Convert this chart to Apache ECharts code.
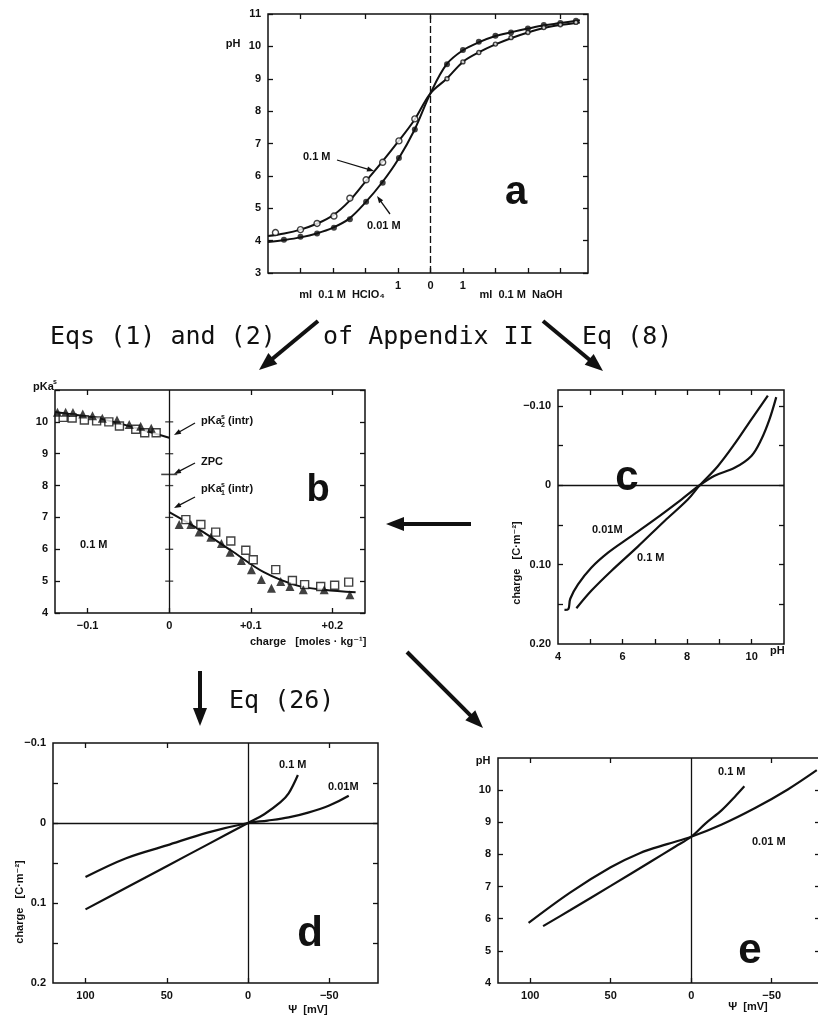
<!DOCTYPE html>
<html>
<head>
<meta charset="utf-8">
<script src="https://cdn.jsdelivr.net/npm/echarts@6/dist/echarts.min.js"></script>
<style>
  html, body { margin: 0; padding: 0; background: #fff; }
  #chart { width: 818px; height: 1020px; }
</style>
</head>
<body>
<div id="chart"></div>
<script>
// ---- (a) titration curves: ml acid (left, negative) / ml base (right, positive) vs pH ----
const aPts01Acid  = [[-4.77,4.25],[-4.0,4.34],[-3.49,4.53],[-2.97,4.76],[-2.48,5.31],[-1.98,5.88],[-1.47,6.42],[-0.97,7.08],[-0.48,7.76]];
const aPts001Acid = [[-4.51,4.03],[-4.0,4.12],[-3.49,4.22],[-2.97,4.40],[-2.48,4.66],[-1.98,5.20],[-1.47,5.79],[-0.97,6.55],[-0.48,7.43]];
const aPts001Base = [[0.51,9.45],[1.0,9.89],[1.49,10.14],[2.0,10.33],[2.48,10.43],[3.0,10.55],[3.49,10.66],[4.0,10.72],[4.48,10.79]];
const aPts01Base  = [[0.51,9.0],[1.0,9.52],[1.49,9.81],[2.0,10.07],[2.48,10.27],[3.0,10.43],[3.49,10.58],[4.0,10.67],[4.48,10.74]];
const aCurve01  = [[-5,4.14],[-4.5,4.22],[-4,4.34],[-3.5,4.52],[-3,4.78],[-2.5,5.22],[-2,5.82],[-1.5,6.42],[-1,7.05],[-0.5,7.72],[0,8.55],[0.5,9.0],[1,9.52],[1.5,9.82],[2,10.06],[2.5,10.26],[3,10.43],[3.5,10.57],[4,10.66],[4.6,10.74]];
const aCurve001 = [[-5,3.96],[-4.5,4.02],[-4,4.1],[-3.5,4.22],[-3,4.4],[-2.5,4.68],[-2,5.18],[-1.5,5.78],[-1,6.5],[-0.5,7.4],[0,8.55],[0.5,9.45],[1,9.88],[1.5,10.13],[2,10.32],[2.5,10.44],[3,10.55],[3.5,10.65],[4,10.72],[4.6,10.81]];
const aXTicks = [-4,-3,-2,-1,0,1,2,3,4];
const aXLabels = [-1,0,1];
const aYTicks = [3,4,5,6,7,8,9,10,11];

// ---- (b) intrinsic pKa vs surface charge, 0.1 M ----
const bTriLeft  = [[-0.137,10.3],[-0.127,10.3],[-0.118,10.29],[-0.106,10.25],[-0.094,10.19],[-0.082,10.11],[-0.064,10.06],[-0.049,9.92],[-0.035,9.86],[-0.022,9.8]];
const bSqLeft   = [[-0.130,10.14],[-0.119,10.12],[-0.104,10.06],[-0.089,10.03],[-0.074,10.0],[-0.061,9.87],[-0.041,9.77],[-0.030,9.66],[-0.016,9.66]];
const bTriRight = [[0.0122,6.78],[0.0265,6.78],[0.0367,6.54],[0.051,6.38],[0.064,6.18],[0.0747,5.91],[0.0885,5.65],[0.1008,5.36],[0.113,5.05],[0.1253,4.78],[0.1367,4.99],[0.148,4.83],[0.1644,4.73],[0.19,4.73],[0.2215,4.57]];
const bSqRight  = [[0.0204,6.93],[0.0388,6.78],[0.057,6.54],[0.0755,6.26],[0.0939,5.97],[0.103,5.67],[0.1306,5.36],[0.151,5.02],[0.166,4.89],[0.1857,4.83],[0.2028,4.87],[0.220,4.97]];
const bFitLeft  = [[-0.14,10.31],[-0.1,10.17],[-0.0857,10.11],[-0.045,9.84],[0,9.5]];
const bFitRight = [[0,7.17],[0.035,6.65],[0.0755,5.97],[0.116,5.28],[0.157,4.86],[0.19,4.73],[0.2285,4.65]];
const bZeroTicks = [[0,5],[0,6],[0,7],[0,8],[0,9],[0,10]];
const bZpc = [[0,8.35]];
const bXTicks = [-0.1,0,0.1,0.2];
const bYTicks = [4,5,6,7,8,9,10,11];
const bYLabels = [4,5,6,7,8,9,10];

// ---- (c) charge vs pH ----
const c001 = [[4.2,0.157],[4.32,0.156],[4.38,0.143],[4.62,0.125],[5.03,0.104],[5.55,0.085],[6.17,0.067],[7.0,0.043],[7.82,0.018],[8.39,0],[8.85,-0.012],[9.47,-0.022],[9.99,-0.037],[10.3,-0.058],[10.55,-0.083],[10.76,-0.111]];
const c01  = [[4.57,0.155],[5.03,0.133],[5.65,0.108],[6.48,0.077],[7.30,0.045],[8.02,0.018],[8.39,0],[8.95,-0.024],[9.47,-0.052],[9.99,-0.083],[10.5,-0.113]];
const cXTicks = [5,6,7,8,9,10];
const cXLabels = [4,6,8,10];
const cYTicks = [-0.1,-0.05,0,0.05,0.1,0.15];
const cYLabels = [-0.1,0,0.1,0.2];

// ---- (d) charge vs surface potential ----
const d01  = [[100,0.108],[75,0.081],[50,0.054],[25,0.027],[0,0],[-10,-0.011],[-20,-0.026],[-25,-0.037],[-30.7,-0.060]];
const d001 = [[100,0.0675],[75,0.044],[50,0.028],[25,0.012],[0,0],[-12,-0.003],[-25,-0.007],[-37,-0.013],[-50,-0.022],[-62,-0.034]];
const dXTicks = [100,50,0,-50];
const dYTicks = [-0.05,0,0.05,0.1,0.15];
const dYLabels = [-0.1,0,0.1,0.2];

// ---- (e) pH vs surface potential ----
const e01  = [[92,5.77],[75,6.27],[50,7.02],[25,7.78],[10,8.24],[0,8.55],[-8.8,8.96],[-19,9.38],[-27,9.79],[-33,10.12]];
const e001 = [[101,5.87],[75,6.82],[50,7.6],[32,8.04],[15,8.32],[0,8.55],[-19,8.93],[-40,9.45],[-60,10.02],[-78,10.62]];
const eXTicks = [100,50,0,-50];
const eYTicks = [5,6,7,8,9,10];
const eYLabels = [4,5,6,7,8,9,10];

const INK = '#111';
const LBL = { color: INK, fontSize: 11, fontWeight: 'bold', fontFamily: 'Liberation Sans, DejaVu Sans' };
const minus = v => String(v).replace('-', '\u2212');

function xAxisPair(grid, min, max, ticks, labels, fmt, inverse, topTicks) {
  const base = {
    type: 'value', gridIndex: grid, min, max, inverse: !!inverse,
    axisLine: { show: false, onZero: false }, splitLine: { show: false }
  };
  return [
    Object.assign({}, base, {
      position: 'bottom',
      axisTick: { show: true, inside: true, length: 5, customValues: ticks, lineStyle: { color: INK, width: 1.3 } },
      axisLabel: Object.assign({ show: true, customValues: labels, formatter: fmt, margin: 7 }, LBL)
    }),
    Object.assign({}, base, {
      position: 'top',
      axisTick: { show: true, inside: true, length: 5, customValues: topTicks || ticks, lineStyle: { color: INK, width: 1.3 } },
      axisLabel: { show: false }
    })
  ];
}
function yAxisPair(grid, min, max, ticks, labels, fmt, inverse) {
  const base = {
    type: 'value', gridIndex: grid, min, max, inverse: !!inverse,
    axisLine: { show: false, onZero: false }, splitLine: { show: false }
  };
  return [
    Object.assign({}, base, {
      position: 'left',
      axisTick: { show: true, inside: true, length: 5, customValues: ticks, lineStyle: { color: INK, width: 1.3 } },
      axisLabel: Object.assign({ show: true, customValues: labels, formatter: fmt, margin: 7 }, LBL)
    }),
    Object.assign({}, base, {
      position: 'right',
      axisTick: { show: true, inside: true, length: 5, customValues: ticks, lineStyle: { color: INK, width: 1.3 } },
      axisLabel: { show: false }
    })
  ];
}

const gridBase = { show: true, borderColor: INK, borderWidth: 1.5, backgroundColor: 'transparent', containLabel: false, outerBoundsMode: 'none' };
const grids = [
  Object.assign({ left: 268, top: 14, width: 320, height: 259 }, gridBase),   // a
  Object.assign({ left: 55, top: 390, width: 310, height: 223 }, gridBase),   // b
  Object.assign({ left: 558, top: 390, width: 226, height: 254 }, gridBase),  // c
  Object.assign({ left: 53, top: 743, width: 325, height: 240 }, gridBase),   // d
  Object.assign({ left: 498, top: 758, width: 322, height: 225 }, gridBase)   // e
];

const xAxes = [].concat(
  xAxisPair(0, -5, 4.85, aXTicks, aXLabels, v => String(Math.abs(v)), false, [-4,-2,0,2,4]),
  xAxisPair(1, -0.14, 0.24, bXTicks, bXTicks, v => v === 0 ? '0' : (v < 0 ? '\u22120.1' : '+' + v.toFixed(1)), false, [-0.1,0.1,0.2]),
  xAxisPair(2, 4, 11, cXTicks, cXLabels, v => String(v), false, cXTicks),
  xAxisPair(3, -80, 120, dXTicks, dXTicks, v => minus(v), true, [100,50,-50]),
  xAxisPair(4, -80, 120, eXTicks, eXTicks, v => minus(v), true, [100,50,-50])
);
const yAxes = [].concat(
  yAxisPair(0, 3, 11, aYTicks, aYTicks, v => String(v)),
  yAxisPair(1, 4, 11, bYTicks, bYLabels, v => String(v)),
  yAxisPair(2, -0.12, 0.2, cYTicks, cYLabels, v => v === 0 ? '0' : minus(v.toFixed(2)), true),
  yAxisPair(3, -0.1, 0.2, dYTicks, dYLabels, v => v === 0 ? '0' : minus(v.toFixed(1)), true),
  yAxisPair(4, 4, 11, eYTicks, eYLabels, v => String(v))
);

function curve(i, data, w) {
  return { type: 'line', xAxisIndex: 2 * i, yAxisIndex: 2 * i, data, smooth: 0.35, showSymbol: false,
           lineStyle: { color: INK, width: w || 2.2 }, silent: true, z: 3 };
}
function pts(i, data, symbol, size, filled) {
  return { type: 'scatter', xAxisIndex: 2 * i, yAxisIndex: 2 * i, data, symbol, symbolSize: size, silent: true, z: 4,
           itemStyle: { color: filled ? INK : '#fff', borderColor: INK, borderWidth: filled ? 0 : 1.4 } };
}
function refLine(i, axisKey, dash) {
  const d = {}; d[axisKey] = 0;
  return { type: 'line', xAxisIndex: 2 * i, yAxisIndex: 2 * i, data: [], silent: true,
           markLine: { silent: true, symbol: 'none', label: { show: false }, animation: false,
                       lineStyle: { color: INK, width: 1.3, type: dash || 'solid' }, data: [d] } };
}

const series = [
  // a
  refLine(0, 'xAxis', [7, 3]),
  curve(0, aCurve01, 2), curve(0, aCurve001, 2),
  pts(0, aPts01Acid, 'circle', 6, false), pts(0, aPts001Acid, 'circle', 6, true),
  pts(0, aPts001Base, 'circle', 6, true), pts(0, aPts01Base, 'circle', 4, false),
  // b
  refLine(1, 'xAxis'),
  curve(1, bFitLeft, 2), curve(1, bFitRight, 2),
  pts(1, bSqLeft, 'rect', 8, false), pts(1, bTriLeft, 'triangle', 9, true),
  pts(1, bSqRight, 'rect', 8, false), pts(1, bTriRight, 'triangle', 9, true),
  { type: 'scatter', xAxisIndex: 2, yAxisIndex: 2, data: bZeroTicks, symbol: 'rect', symbolSize: [8, 1.3], silent: true, itemStyle: { color: INK } },
  { type: 'scatter', xAxisIndex: 2, yAxisIndex: 2, data: bZpc, symbol: 'rect', symbolSize: [16, 1.6], silent: true, itemStyle: { color: INK } },
  // c
  refLine(2, 'yAxis'),
  curve(2, c001), curve(2, c01),
  // d
  refLine(3, 'xAxis'), refLine(3, 'yAxis'),
  curve(3, d01), curve(3, d001),
  // e
  refLine(4, 'xAxis'),
  curve(4, e01), curve(4, e001)
];

// ---- annotations ----
const SMALL = 'bold 11px "Liberation Sans", "DejaVu Sans"';
const SMALL_SUP = 'bold 7px "Liberation Sans", "DejaVu Sans"';
const MONO = '25px "DejaVu Sans Mono"';
function txt(x, y, s, font, align, extra) {
  return Object.assign({ type: 'text', x, y, silent: true,
    style: { text: s, fill: INK, font: font || SMALL, align: align || 'left', verticalAlign: 'middle' } }, extra || {});
}
function letter(x, y, s, size) {
  return { type: 'text', x, y, silent: true,
    style: { text: s, fill: INK, font: 'bold ' + size + 'px "Liberation Sans"', align: 'center', verticalAlign: 'alphabetic' } };
}
function arrow(x1, y1, x2, y2, lw, hl, hw) {
  const dx = x2 - x1, dy = y2 - y1, L = Math.hypot(dx, dy), ux = dx / L, uy = dy / L;
  const bx = x2 - ux * hl, by = y2 - uy * hl, nx = -uy, ny = ux;
  return [
    { type: 'line', silent: true, shape: { x1, y1, x2: bx + ux * 2, y2: by + uy * 2 }, style: { stroke: INK, lineWidth: lw } },
    { type: 'polygon', silent: true, shape: { points: [[x2, y2], [bx + nx * hw / 2, by + ny * hw / 2], [bx - nx * hw / 2, by - ny * hw / 2]] }, style: { fill: INK } }
  ];
}
function pka(x, y, sub) {
  return [
    txt(x, y, 'pKa'),
    txt(x + 20, y - 4, 's', SMALL_SUP),
    txt(x + 20, y + 4, sub, SMALL_SUP),
    txt(x + 27, y, '(intr)')
  ];
}

const graphics = [].concat(
  // panel a
  [txt(233, 44, 'pH', SMALL, 'center'),
   txt(342, 295, 'ml  0.1 M  HClO\u2084', SMALL, 'center'),
   txt(521, 295, 'ml  0.1 M  NaOH', SMALL, 'center'),
   txt(303, 157, '0.1 M'),
   txt(367, 226, '0.01 M'),
   letter(516, 173, 'a', 40)],
  arrow(337, 160, 374, 171, 1.3, 7, 5),
  arrow(390, 214, 377, 196, 1.3, 7, 5),
  // transitions between panels
  [txt(50, 337, 'Eqs (1) and (2)', MONO),
   txt(323, 337, 'of Appendix II', MONO),
   txt(582, 337, 'Eq (8)', MONO),
   txt(229, 701, 'Eq (26)', MONO)],
  arrow(318, 321, 259, 370, 4, 18, 14),
  arrow(543, 321, 603, 371, 4, 18, 14),
  arrow(471, 524, 386, 524, 4, 18, 14),
  arrow(200, 671, 200, 726, 4, 18, 14),
  arrow(407, 652, 483, 728, 4, 18, 14),
  // panel b
  [txt(33, 387, 'pKa'), txt(53, 382, 's', SMALL_SUP),
   txt(201, 462, 'ZPC'),
   txt(80, 545, '0.1 M'),
   txt(250, 642, 'charge   [moles \u00B7 kg\u207B\u00B9]'),
   letter(318, 472, 'b', 38)],
  pka(201, 421, '2'), pka(201, 489, '1'),
  arrow(195, 423, 174, 435, 1.3, 7, 5),
  arrow(195, 463, 174, 474, 1.3, 7, 5),
  arrow(195, 497, 174, 508, 1.3, 7, 5),
  // panel c
  [txt(517, 563, 'charge   [C\u00B7m\u207B\u00B2]', SMALL, 'center', { rotation: Math.PI / 2 }),
   txt(770, 651, 'pH'),
   txt(592, 530, '0.01M'),
   txt(637, 558, '0.1 M'),
   letter(627, 457, 'c', 42)],
  // panel d
  [txt(20, 902, 'charge   [C\u00B7m\u207B\u00B2]', SMALL, 'center', { rotation: Math.PI / 2 }),
   txt(308, 1010, '\u03A8  [mV]', SMALL, 'center'),
   txt(279, 765, '0.1 M'),
   txt(328, 787, '0.01M'),
   letter(310, 913, 'd', 42)],
  // panel e
  [txt(483, 761, 'pH', SMALL, 'center'),
   txt(748, 1007, '\u03A8  [mV]', SMALL, 'center'),
   txt(718, 772, '0.1 M'),
   txt(752, 842, '0.01 M'),
   letter(750, 930, 'e', 42)]
);

const chart = echarts.init(document.getElementById('chart'), null, { renderer: 'canvas' });
chart.setOption({
  animation: false,
  backgroundColor: '#fff',
  grid: grids,
  xAxis: xAxes,
  yAxis: yAxes,
  series,
  graphic: { elements: graphics }
});
</script>
</body>
</html>
